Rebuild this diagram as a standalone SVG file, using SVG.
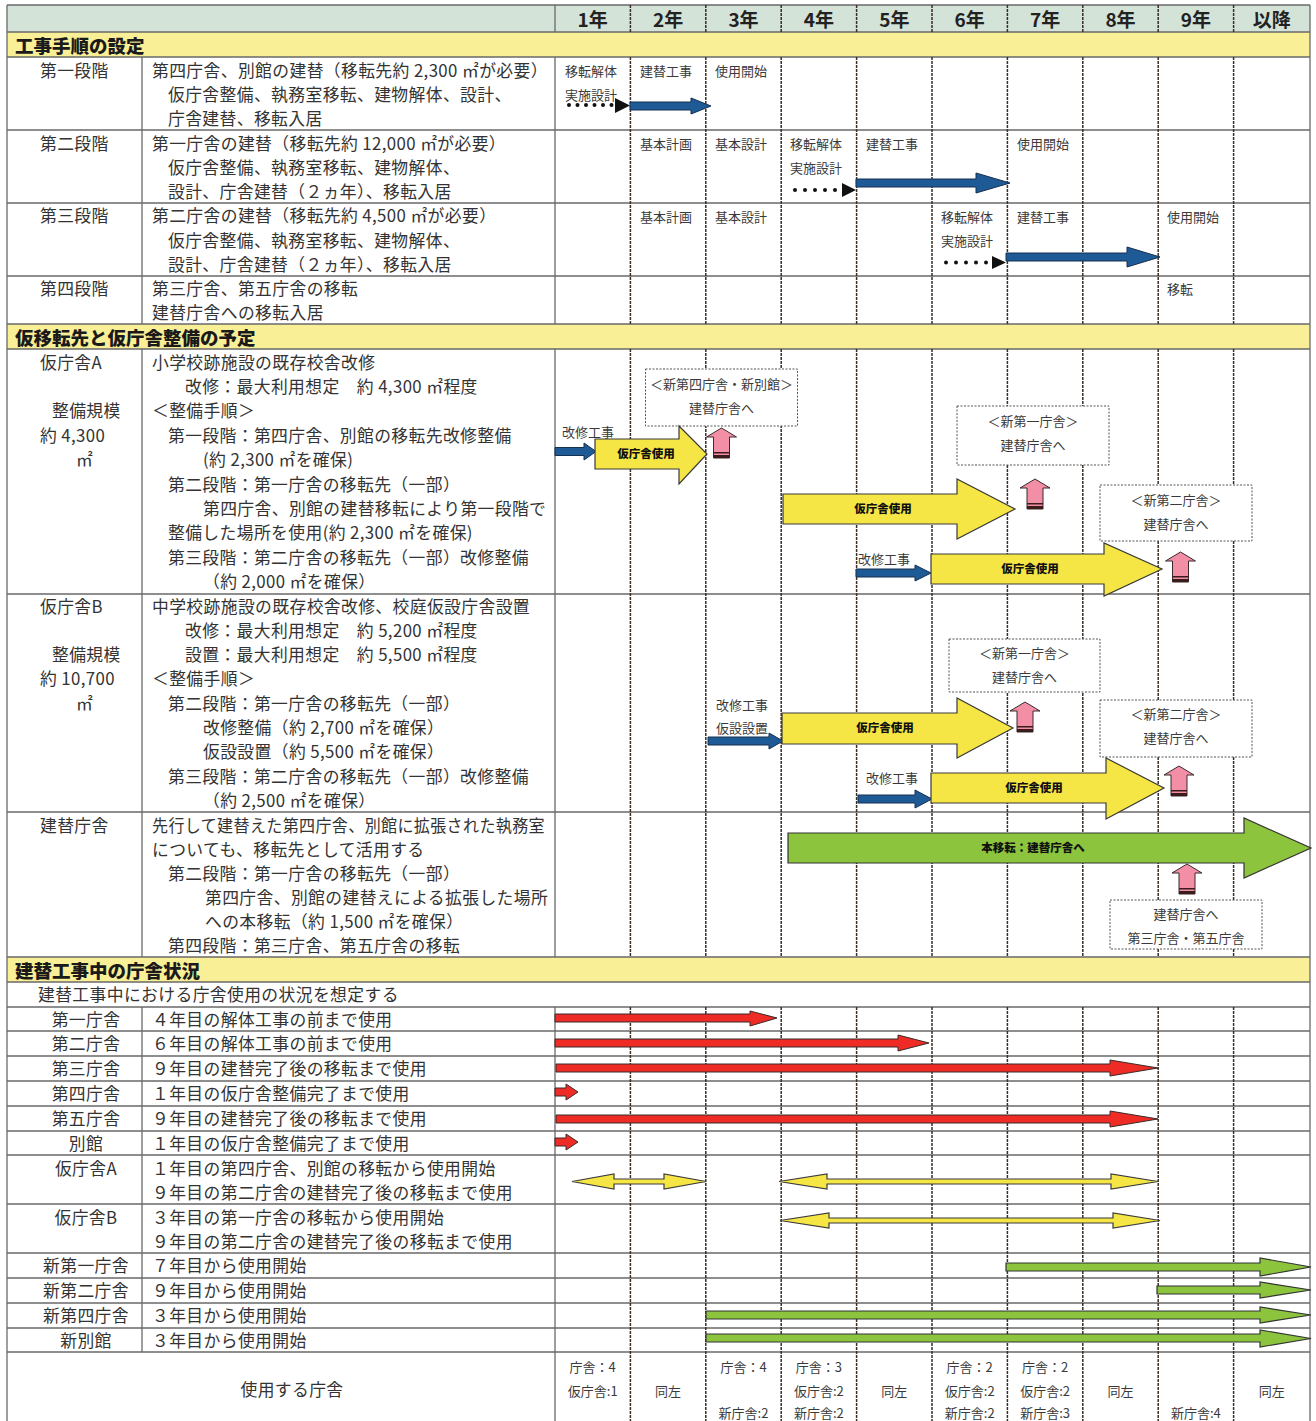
<svg xmlns="http://www.w3.org/2000/svg" xmlns:xlink="http://www.w3.org/1999/xlink" width="1316" height="1421" viewBox="0 0 1316 1421">
<style>
text{font-family:"Noto Sans CJK JP","Noto Sans CJK SC",sans-serif;dominant-baseline:central;fill:#333}
.t{font-size:16.8px;letter-spacing:0.4px}
.s{font-size:13px;fill:#3a3a3a}
.bt{font-size:18.5px;font-weight:900;fill:#1a1a1a}
.yr{font-size:19px;font-weight:700;fill:#222;text-anchor:middle}
.al{font-size:11.5px;font-weight:900;fill:#111;text-anchor:middle}
.m{text-anchor:middle}
.hl{stroke:#6a6a6a;stroke-width:1.3;fill:none}
.vs{stroke:#6a6a6a;stroke-width:1.3;fill:none}
.vd{stroke:#3a2e25;stroke-width:1.5;stroke-dasharray:3 1;fill:none}
.box{fill:#fff;stroke:#555;stroke-width:1;stroke-dasharray:2 1.5}
.blue{fill:#1d5a96;stroke:#16304f;stroke-width:1}
.yel{fill:#f5e646;stroke:#3a3a3a;stroke-width:1.2}
.red{fill:#ee2b25;stroke:#3a2a2a;stroke-width:1}
.grn{fill:#8cc43e;stroke:#333;stroke-width:1.2}
.pink{fill:#f28fa7;stroke:#3a2a2a;stroke-width:1}
.dot{fill:#111}
</style>
<defs>
<g id="pk"><path class="pink" d="M0,0 L15,9 L8,9 L8,30 L-8,30 L-8,9 L-15,9 Z"/><rect x="-8" y="24" width="16" height="1.5" fill="#3b1c1c"/><rect x="-8" y="27" width="16" height="3" fill="#3b1c1c"/></g>
</defs>
<rect width="1316" height="1421" fill="#fff"/>
<g id="backgrounds">
<rect x="7" y="5" width="1303" height="27" fill="#d4e3d8"/>
<rect x="7" y="32" width="1303" height="25" fill="#f8ef96"/>
<rect x="7" y="324" width="1303" height="25" fill="#f8ef96"/>
<rect x="7" y="957" width="1303" height="25" fill="#f8ef96"/>
</g>
<g id="grid">
<path class="hl" d="M7,5H1310M7,32H1310M7,57H1310M7,130H1310M7,203H1310M7,276H1310M7,324H1310M7,349H1310M7,594H1310M7,812H1310M7,957H1310M7,982H1310M7,1007H1310M7,1031H1310M7,1056H1310M7,1081H1310M7,1106H1310M7,1131H1310M7,1155H1310M7,1204H1310M7,1253H1310M7,1278H1310M7,1303H1310M7,1328H1310M7,1352H1310"/>
<path class="vs" d="M7,5V1421M1310,5V1421M555,5V32M555,57V324M555,349V957M555,1007V1421M142,57V324M142,349V957M142,1007V1352"/>
<path class="vd" d="M630.4,5V32M630.4,57V324M630.4,349V957M630.4,1007V1421
M705.8,5V32M705.8,57V324M705.8,349V957M705.8,1007V1421
M781.2,5V32M781.2,57V324M781.2,349V957M781.2,1007V1421
M856.6,5V32M856.6,57V324M856.6,349V957M856.6,1007V1421
M932,5V32M932,57V324M932,349V957M932,1007V1421
M1007.4,5V32M1007.4,57V324M1007.4,349V957M1007.4,1007V1421
M1082.8,5V32M1082.8,57V324M1082.8,349V957M1082.8,1007V1421
M1158.2,5V32M1158.2,57V324M1158.2,349V957M1158.2,1007V1421
M1233.6,5V32M1233.6,57V324M1233.6,349V957M1233.6,1007V1421"/>
</g>
<g id="header">
<text class="yr" x="592.7" y="18">1年</text>
<text class="yr" x="668.1" y="18">2年</text>
<text class="yr" x="743.5" y="18">3年</text>
<text class="yr" x="818.9" y="18">4年</text>
<text class="yr" x="894.3" y="18">5年</text>
<text class="yr" x="969.7" y="18">6年</text>
<text class="yr" x="1045.1" y="18">7年</text>
<text class="yr" x="1120.5" y="18">8年</text>
<text class="yr" x="1195.9" y="18">9年</text>
<text class="yr" x="1271.8" y="18">以降</text>
</g>
<g id="bands">
<text class="bt" x="15" y="44.5">工事手順の設定</text>
<text class="bt" x="15" y="336.5">仮移転先と仮庁舎整備の予定</text>
<text class="bt" x="15" y="969.5">建替工事中の庁舎状況</text>
</g>
<g id="stage1">
<text class="t" x="40" y="70">第一段階</text>
<text class="t" x="152" y="70">第四庁舎、別館の建替（移転先約 2,300 ㎡が必要）</text>
<text class="t" x="168" y="94">仮庁舎整備、執務室移転、建物解体、設計、</text>
<text class="t" x="168" y="118">庁舎建替、移転入居</text>
<text class="s" x="565" y="70">移転解体</text>
<text class="s" x="565" y="94">実施設計</text>
<text class="s" x="640" y="70">建替工事</text>
<text class="s" x="715" y="70">使用開始</text>
</g>
<g id="stage2">
<text class="t" x="40" y="143">第二段階</text>
<text class="t" x="152" y="143">第一庁舎の建替（移転先約 12,000 ㎡が必要）</text>
<text class="t" x="168" y="167">仮庁舎整備、執務室移転、建物解体、</text>
<text class="t" x="168" y="191">設計、庁舎建替（２ヵ年）、移転入居</text>
<text class="s" x="640" y="143">基本計画</text>
<text class="s" x="715" y="143">基本設計</text>
<text class="s" x="790" y="143">移転解体</text>
<text class="s" x="790" y="167">実施設計</text>
<text class="s" x="866" y="143">建替工事</text>
<text class="s" x="1017" y="143">使用開始</text>
</g>
<g id="stage3">
<text class="t" x="40" y="215">第三段階</text>
<text class="t" x="152" y="215">第二庁舎の建替（移転先約 4,500 ㎡が必要）</text>
<text class="t" x="168" y="240">仮庁舎整備、執務室移転、建物解体、</text>
<text class="t" x="168" y="264">設計、庁舎建替（２ヵ年）、移転入居</text>
<text class="s" x="640" y="216">基本計画</text>
<text class="s" x="715" y="216">基本設計</text>
<text class="s" x="941" y="216">移転解体</text>
<text class="s" x="941" y="240">実施設計</text>
<text class="s" x="1017" y="216">建替工事</text>
<text class="s" x="1167" y="216">使用開始</text>
</g>
<g id="stage4">
<text class="t" x="40" y="288">第四段階</text>
<text class="t" x="152" y="288">第三庁舎、第五庁舎の移転</text>
<text class="t" x="152" y="312">建替庁舎への移転入居</text>
<text class="s" x="1167" y="288">移転</text>
</g>
<g id="kariA">
<text class="t" x="40" y="362">仮庁舎A</text>
<text class="t" x="52" y="410">整備規模</text>
<text class="t" x="40" y="435">約 4,300</text>
<text class="t" x="76" y="459">㎡</text>
<text class="t" x="152" y="362">小学校跡施設の既存校舎改修</text>
<text class="t" x="185" y="386">改修：最大利用想定　約 4,300 ㎡程度</text>
<text class="t" x="152" y="410">＜整備手順＞</text>
<text class="t" x="168" y="435">第一段階：第四庁舎、別館の移転先改修整備</text>
<text class="t" x="203" y="459">(約 2,300 ㎡を確保)</text>
<text class="t" x="168" y="484">第二段階：第一庁舎の移転先（一部）</text>
<text class="t" x="203" y="508">第四庁舎、別館の建替移転により第一段階で</text>
<text class="t" x="168" y="532">整備した場所を使用(約 2,300 ㎡を確保)</text>
<text class="t" x="168" y="557">第三段階：第二庁舎の移転先（一部）改修整備</text>
<text class="t" x="203" y="581">（約 2,000 ㎡を確保）</text>
</g>
<g id="kariB">
<text class="t" x="40" y="606">仮庁舎B</text>
<text class="t" x="52" y="654">整備規模</text>
<text class="t" x="40" y="678">約 10,700</text>
<text class="t" x="76" y="703">㎡</text>
<text class="t" x="152" y="606">中学校跡施設の既存校舎改修、校庭仮設庁舎設置</text>
<text class="t" x="185" y="630">改修：最大利用想定　約 5,200 ㎡程度</text>
<text class="t" x="185" y="654">設置：最大利用想定　約 5,500 ㎡程度</text>
<text class="t" x="152" y="678">＜整備手順＞</text>
<text class="t" x="168" y="703">第二段階：第一庁舎の移転先（一部）</text>
<text class="t" x="203" y="727">改修整備（約 2,700 ㎡を確保）</text>
<text class="t" x="203" y="751">仮設設置（約 5,500 ㎡を確保）</text>
<text class="t" x="168" y="776">第三段階：第二庁舎の移転先（一部）改修整備</text>
<text class="t" x="203" y="800">（約 2,500 ㎡を確保）</text>
</g>
<g id="tatekae">
<text class="t" x="40" y="825">建替庁舎</text>
<text class="t" x="152" y="825" textLength="393" lengthAdjust="spacingAndGlyphs">先行して建替えた第四庁舎、別館に拡張された執務室</text>
<text class="t" x="152" y="849">についても、移転先として活用する</text>
<text class="t" x="168" y="873">第二段階：第一庁舎の移転先（一部）</text>
<text class="t" x="205" y="897">第四庁舎、別館の建替えによる拡張した場所</text>
<text class="t" x="205" y="921">への本移転（約 1,500 ㎡を確保）</text>
<text class="t" x="168" y="945">第四段階：第三庁舎、第五庁舎の移転</text>
</g>
<g id="boxes">
<g id="box1"><rect class="box" x="645.5" y="369" width="152" height="57"/><text class="s m" x="721.5" y="383">＜新第四庁舎・新別館＞</text><text class="s m" x="721.5" y="407">建替庁舎へ</text></g>
<g id="box2"><rect class="box" x="957" y="406" width="152" height="59"/><text class="s m" x="1033" y="420">＜新第一庁舎＞</text><text class="s m" x="1033" y="444">建替庁舎へ</text></g>
<g id="box3"><rect class="box" x="1100" y="485" width="152" height="56"/><text class="s m" x="1176" y="499">＜新第二庁舎＞</text><text class="s m" x="1176" y="523">建替庁舎へ</text></g>
<g id="box4"><rect class="box" x="949" y="639" width="151" height="53"/><text class="s m" x="1024.5" y="652">＜新第一庁舎＞</text><text class="s m" x="1024.5" y="676">建替庁舎へ</text></g>
<g id="box5"><rect class="box" x="1100" y="700" width="152" height="57"/><text class="s m" x="1176" y="713">＜新第二庁舎＞</text><text class="s m" x="1176" y="737">建替庁舎へ</text></g>
<g id="box6"><rect class="box" x="1110" y="900" width="152" height="49"/><text class="s m" x="1186" y="913">建替庁舎へ</text><text class="s m" x="1186" y="937">第三庁舎・第五庁舎</text></g>
</g>
<g id="connectors">
<g id="dots">
<circle class="dot" cx="569" cy="105" r="2"/><circle class="dot" cx="577.5" cy="105" r="2"/><circle class="dot" cx="586" cy="105" r="2"/><circle class="dot" cx="594.5" cy="105" r="2"/><circle class="dot" cx="603" cy="105" r="2"/><circle class="dot" cx="611.5" cy="105" r="2"/>
<path class="dot" d="M615,98 L630,105.5 L615,113 Z"/>
<circle class="dot" cx="795" cy="190" r="2"/><circle class="dot" cx="805" cy="190" r="2"/><circle class="dot" cx="815" cy="190" r="2"/><circle class="dot" cx="825" cy="190" r="2"/><circle class="dot" cx="835" cy="190" r="2"/>
<path class="dot" d="M842,183 L856,190 L842,197 Z"/>
<circle class="dot" cx="946" cy="262.5" r="2"/><circle class="dot" cx="956" cy="262.5" r="2"/><circle class="dot" cx="966" cy="262.5" r="2"/><circle class="dot" cx="976" cy="262.5" r="2"/><circle class="dot" cx="986" cy="262.5" r="2"/>
<path class="dot" d="M992,256 L1006,262.5 L992,269 Z"/>
</g>
<path class="blue" d="M630,102H691V98L711,106L691,114V110H630Z"/>
<path class="blue" d="M856,179H976V173L1010,183L976,193V187H856Z"/>
<path class="blue" d="M1006,253H1127V247L1160,257L1127,267V261H1006Z"/>
<text class="s" x="562" y="431">改修工事</text>
<path class="blue" d="M555,447.5H584V443L596,451.5L584,460V455.5H555Z"/>
<path class="yel" d="M595,439H679V426L707,454L679,484V469H595Z"/>
<text class="al" x="646" y="453">仮庁舎使用</text>
<path class="yel" d="M783,494H957V479L1015,509L957,539V524H783Z"/>
<text class="al" x="883" y="508">仮庁舎使用</text>
<text class="s" x="858" y="558">改修工事</text>
<path class="blue" d="M856,569H915V565L931,573L915,581V577H856Z"/>
<path class="yel" d="M931,554H1104V543L1162,569L1104,596V584H931Z"/>
<text class="al" x="1030" y="568">仮庁舎使用</text>
<text class="s" x="716" y="704">改修工事</text>
<text class="s" x="716" y="727">仮設設置</text>
<path class="blue" d="M708,737H769V733L783,741L769,749V745H708Z"/>
<path class="yel" d="M782,713H957V698L1013,728L957,758V744H782Z"/>
<text class="al" x="885" y="727">仮庁舎使用</text>
<text class="s" x="866" y="777">改修工事</text>
<path class="blue" d="M858,795H915V790L932,799L915,808V803H858Z"/>
<path class="yel" d="M931,773H1106V758L1164,788L1106,819V803H931Z"/>
<text class="al" x="1034" y="787">仮庁舎使用</text>
<path class="grn" d="M788,833H1244V818L1311,848L1244,878V863H788Z"/>
<text class="al" x="1033" y="847">本移転：建替庁舎へ</text>
<use xlink:href="#pk" href="#pk" x="721.5" y="428"/>
<use xlink:href="#pk" href="#pk" x="1035" y="479"/>
<use xlink:href="#pk" href="#pk" x="1180.5" y="552"/>
<use xlink:href="#pk" href="#pk" x="1025" y="702"/>
<use xlink:href="#pk" href="#pk" x="1179" y="766"/>
<use xlink:href="#pk" href="#pk" x="1187" y="864"/>
<path class="red" d="M555,1014H750V1011L777,1018L750,1026V1022H555Z"/>
<path class="red" d="M555,1039H898V1035L929,1043L898,1051V1047H555Z"/>
<path class="red" d="M556,1064H1110V1060L1158,1068L1110,1076V1072H556Z"/>
<path class="red" d="M555,1088H566V1084L578,1092L566,1100V1096H555Z"/>
<path class="red" d="M556,1115H1110V1111L1158,1119L1110,1127V1123H556Z"/>
<path class="red" d="M555,1138H566V1134L578,1142L566,1150V1146H555Z"/>
<path class="yel" d="M572,1181.5L614,1174V1179H664V1174L706,1181.5L664,1189V1184H614V1189Z"/>
<path class="yel" d="M779,1181.5L827,1174V1179H1111V1174L1158,1181.5L1111,1189V1184H827V1189Z"/>
<path class="yel" d="M780,1220.5L829,1213V1218H1113V1213L1160,1220.5L1113,1228V1223H829V1228Z"/>
<path class="grn" d="M1006,1263H1260V1258L1311,1267L1260,1276V1271H1006Z"/>
<path class="grn" d="M1157,1286H1260V1282L1311,1290L1260,1298V1294H1157Z"/>
<path class="grn" d="M706,1311H1260V1307L1311,1315L1260,1323V1319H706Z"/>
<path class="grn" d="M706,1334H1260V1330L1311,1338.5L1260,1347V1342H706Z"/>
</g>
<g id="status">
<text class="t" x="38" y="994">建替工事中における庁舎使用の状況を想定する</text>
<text class="t m" x="86" y="1019">第一庁舎</text><text class="t" x="152" y="1019">４年目の解体工事の前まで使用</text>
<text class="t m" x="86" y="1043">第二庁舎</text><text class="t" x="152" y="1043">６年目の解体工事の前まで使用</text>
<text class="t m" x="86" y="1068">第三庁舎</text><text class="t" x="152" y="1068">９年目の建替完了後の移転まで使用</text>
<text class="t m" x="86" y="1093">第四庁舎</text><text class="t" x="152" y="1093">１年目の仮庁舎整備完了まで使用</text>
<text class="t m" x="86" y="1118">第五庁舎</text><text class="t" x="152" y="1118">９年目の建替完了後の移転まで使用</text>
<text class="t m" x="86" y="1143">別館</text><text class="t" x="152" y="1143">１年目の仮庁舎整備完了まで使用</text>
<text class="t m" x="86" y="1168">仮庁舎A</text><text class="t" x="152" y="1168">１年目の第四庁舎、別館の移転から使用開始</text>
<text class="t" x="152" y="1192">９年目の第二庁舎の建替完了後の移転まで使用</text>
<text class="t m" x="86" y="1217">仮庁舎B</text><text class="t" x="152" y="1217">３年目の第一庁舎の移転から使用開始</text>
<text class="t" x="152" y="1241">９年目の第二庁舎の建替完了後の移転まで使用</text>
<text class="t m" x="86" y="1265">新第一庁舎</text><text class="t" x="152" y="1265">７年目から使用開始</text>
<text class="t m" x="86" y="1290">新第二庁舎</text><text class="t" x="152" y="1290">９年目から使用開始</text>
<text class="t m" x="86" y="1315">新第四庁舎</text><text class="t" x="152" y="1315">３年目から使用開始</text>
<text class="t m" x="86" y="1340">新別館</text><text class="t" x="152" y="1340">３年目から使用開始</text>
<text class="t m" x="292" y="1389">使用する庁舎</text>
</g>
<g id="usage">
<text class="s m" x="592.7" y="1366">庁舎：4</text><text class="s m" x="592.7" y="1390">仮庁舎:1</text>
<text class="s m" x="668.1" y="1390">同左</text>
<text class="s m" x="743.5" y="1366">庁舎：4</text><text class="s m" x="743.5" y="1412">新庁舎:2</text>
<text class="s m" x="818.9" y="1366">庁舎：3</text><text class="s m" x="818.9" y="1390">仮庁舎:2</text><text class="s m" x="818.9" y="1412">新庁舎:2</text>
<text class="s m" x="894.3" y="1390">同左</text>
<text class="s m" x="969.7" y="1366">庁舎：2</text><text class="s m" x="969.7" y="1390">仮庁舎:2</text><text class="s m" x="969.7" y="1412">新庁舎:2</text>
<text class="s m" x="1045.1" y="1366">庁舎：2</text><text class="s m" x="1045.1" y="1390">仮庁舎:2</text><text class="s m" x="1045.1" y="1412">新庁舎:3</text>
<text class="s m" x="1120.5" y="1390">同左</text>
<text class="s m" x="1195.9" y="1412">新庁舎:4</text>
<text class="s m" x="1271.8" y="1390">同左</text>
</g>
</svg>
